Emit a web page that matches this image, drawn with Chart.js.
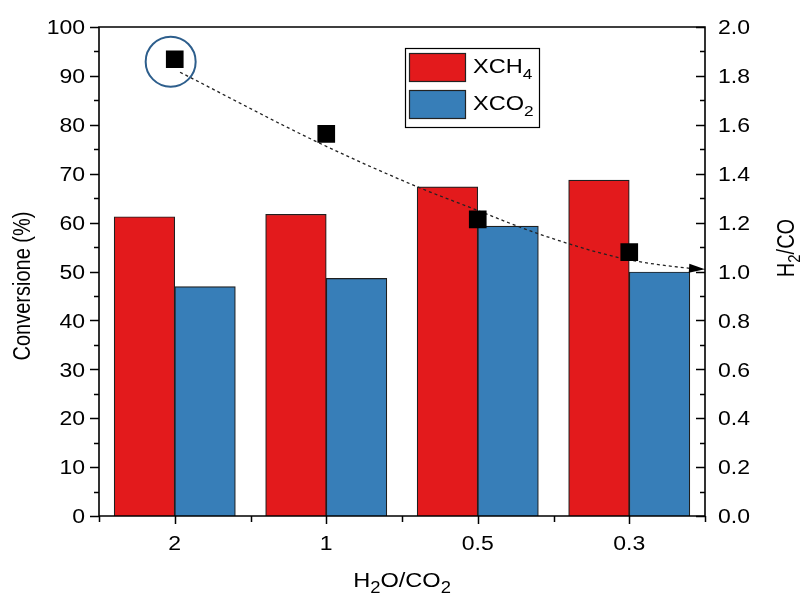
<!DOCTYPE html>
<html><head><meta charset="utf-8">
<script src="https://cdn.jsdelivr.net/npm/chart.js@4/dist/chart.umd.min.js"></script>
<style>html,body{margin:0;padding:0;background:#fff;} #wrap{width:803px;height:596px;position:relative;}</style>
</head><body><div id="wrap"><canvas id="c" width="803" height="596"></canvas></div>
<script>
// ---- data ----
const categories = ['2', '1', '0.5', '0.3'];
const xch4 = [61.2, 61.7, 67.3, 68.7];
const xco2 = [46.9, 48.6, 59.3, 49.9];
const h2co = [1.868, 1.563, 1.213, 1.079];
// dashed trend curve (x in category units from the left axis, y on H2/CO axis)
const fitPos = [0.535, 1.439, 2.099, 2.449, 2.911, 3.452, 3.901, 4.0];
const fitVal = [1.815, 1.530, 1.347, 1.262, 1.152, 1.054, 1.013, 1.009];
// highlight circle around the first point
const circlePos = [0.473];
const circleVal = [1.858];
const leftRange = [0, 100];
const leftStep = 10;
const rightRange = [0, 2];
const rightStep = 0.2;
const seriesNames = ['XCH_4', 'XCO_2'];
const axisTitles = { x: 'H_2O/CO_2', left: 'Conversione (%)', right: 'H_2/CO' };

// ---- helpers ----
const FONT = '"Liberation Sans", Arial, sans-serif';
const SX = 1.15;
function rich(ctx, text, x, y, size, align, rot, subScale) {
  const segs = [];
  const re = /_(\w)/g; let last = 0, m;
  while ((m = re.exec(text))) {
    if (m.index > last) segs.push({ t: text.slice(last, m.index), sub: false });
    segs.push({ t: m[1], sub: true });
    last = re.lastIndex;
  }
  if (last < text.length) segs.push({ t: text.slice(last), sub: false });
  const fN = size + 'px ' + FONT;
  const fS = Math.round(size * (subScale || 0.72)) + 'px ' + FONT;
  let w = 0;
  segs.forEach(s => { ctx.font = s.sub ? fS : fN; s.w = ctx.measureText(s.t).width; w += s.w; });
  ctx.save();
  ctx.translate(x, y);
  ctx.scale(SX, 1);
  if (rot) ctx.rotate(rot);
  let cx = align === 'center' ? -w / 2 : align === 'right' ? -w : 0;
  const base = size * 0.36;
  ctx.textAlign = 'left'; ctx.textBaseline = 'alphabetic'; ctx.fillStyle = '#000';
  segs.forEach(s => {
    ctx.font = s.sub ? fS : fN;
    ctx.fillText(s.t, cx, base + (s.sub ? size * 0.27 : 0));
    cx += s.w;
  });
  ctx.restore();
}
function fmt(v, d) { return v.toFixed(d); }

const framePlugin = {
  id: 'frame',
  afterDatasetsDraw(chart) {
    const ctx = chart.ctx, a = chart.chartArea;
    const xs = chart.scales.x, yl = chart.scales.y, yr = chart.scales.y1;
    ctx.save();
    // arrow head at end of fit curve
    const fm = chart.getDatasetMeta(0).data;
    const p = fm[fm.length - 1], q = fm[fm.length - 2];
    const ang = Math.atan2(p.y - q.y, p.x - q.x);
    ctx.fillStyle = '#000';
    ctx.beginPath();
    ctx.moveTo(p.x, p.y);
    ctx.lineTo(p.x - 16 * Math.cos(ang) + 4.5 * Math.sin(ang), p.y - 16 * Math.sin(ang) - 4.5 * Math.cos(ang));
    ctx.lineTo(p.x - 16 * Math.cos(ang) - 4.5 * Math.sin(ang), p.y - 16 * Math.sin(ang) + 4.5 * Math.cos(ang));
    ctx.closePath(); ctx.fill();

    ctx.strokeStyle = '#000'; ctx.lineWidth = 1.6; ctx.lineCap = 'square';
    ctx.beginPath();
    ctx.moveTo(a.left, a.bottom); ctx.lineTo(a.left, a.top); ctx.lineTo(a.right, a.top);
    ctx.lineTo(a.right, a.bottom); ctx.closePath(); ctx.stroke();
    ctx.lineCap = 'butt'; ctx.lineWidth = 1.5;
    ctx.beginPath();
    // left ticks (outward)
    const nL = Math.round((leftRange[1] - leftRange[0]) / (leftStep / 2));
    for (let i = 0; i <= nL; i++) {
      const v = leftRange[0] + i * leftStep / 2;
      const py = Math.round(yl.getPixelForValue(v)) + 0.5;
      const len = i % 2 === 0 ? 9 : 5;
      ctx.moveTo(a.left, py); ctx.lineTo(a.left - len, py);
    }
    // right ticks (inward)
    const nR = Math.round((rightRange[1] - rightRange[0]) / (rightStep / 2));
    for (let i = 0; i <= nR; i++) {
      const v = rightRange[0] + i * rightStep / 2;
      const py = Math.round(yr.getPixelForValue(v)) + 0.5;
      const len = i % 2 === 0 ? 9 : 5;
      ctx.moveTo(a.right, py); ctx.lineTo(a.right - len, py);
    }
    // bottom ticks
    const half = (xs.getPixelForValue(1) - xs.getPixelForValue(0)) / 2;
    for (let i = 0; i < categories.length; i++) {
      const cx = Math.round(xs.getPixelForValue(i)) + 0.5;
      ctx.moveTo(cx, a.bottom); ctx.lineTo(cx, a.bottom + 8);
      const bx = Math.round(xs.getPixelForValue(i) - half) + 0.5;
      ctx.moveTo(bx, a.bottom); ctx.lineTo(bx, a.bottom + 6);
    }
    const ex = Math.round(xs.getPixelForValue(categories.length - 1) + half) + 0.5;
    ctx.moveTo(ex, a.bottom); ctx.lineTo(ex, a.bottom + 6);
    ctx.stroke();
    ctx.restore();
  },
  afterDraw(chart) {
    const ctx = chart.ctx, a = chart.chartArea;
    const xs = chart.scales.x, yl = chart.scales.y, yr = chart.scales.y1;
    // tick labels
    yl.ticks.forEach(t => rich(ctx, fmt(t.value, 0), a.left - 14, yl.getPixelForValue(t.value), 20, 'right'));
    yr.ticks.forEach(t => rich(ctx, fmt(t.value, 1), a.right + 13, yr.getPixelForValue(t.value), 20, 'left'));
    categories.forEach((c, i) => rich(ctx, c, xs.getPixelForValue(i), a.bottom + 27, 20, 'center'));
    // axis titles
    rich(ctx, axisTitles.x, (a.left + a.right) / 2, a.bottom + 64, 20.5, 'center', 0, 0.78);
    rich(ctx, axisTitles.left, 22, 286, 20, 'center', -Math.PI / 2);
    rich(ctx, axisTitles.right, 786, 248, 20, 'center', -Math.PI / 2, 0.75);
    // legend
    ctx.save();
    ctx.strokeStyle = '#000'; ctx.lineWidth = 1.2;
    ctx.strokeRect(405.5, 48.5, 134, 79);
    const bars = [chart.data.datasets[3], chart.data.datasets[4]];
    const rows = [53, 90];
    bars.forEach((d, i) => {
      ctx.fillStyle = d.backgroundColor;
      ctx.fillRect(409.5, rows[i] + 0.5, 56, 28);
      ctx.strokeStyle = '#222'; ctx.lineWidth = 1.2;
      ctx.strokeRect(409.5, rows[i] + 0.5, 56, 28);
      rich(ctx, seriesNames[i], 473, rows[i] + 13, 20.5, 'left');
    });
    ctx.restore();
  }
};

new Chart(document.getElementById('c'), {
  type: 'bar',
  data: {
    labels: categories,
    datasets: [
      { type: 'line', label: 'fit', data: fitPos.map((u, i) => ({ x: u, y: fitVal[i] })),
        xAxisID: 'xu', yAxisID: 'y1', borderColor: '#222', borderWidth: 1.3, borderDash: [3, 3],
        pointRadius: 0, fill: false, cubicInterpolationMode: 'monotone', order: 2 },
      { type: 'line', label: 'H2/CO', data: h2co, xAxisID: 'x', yAxisID: 'y1', showLine: false,
        pointStyle: 'rect', pointRadius: 12.5, pointBackgroundColor: '#000', pointBorderWidth: 0,
        backgroundColor: '#000', borderColor: '#000', order: 0 },
      { type: 'scatter', label: 'highlight', data: circlePos.map((u, i) => ({ x: u, y: circleVal[i] })),
        xAxisID: 'xu', yAxisID: 'y1', pointStyle: 'circle', pointRadius: 25,
        pointBackgroundColor: 'rgba(0,0,0,0)', pointBorderColor: '#2D5E8C', pointBorderWidth: 2, order: 1 },
      { label: 'XCH4', data: xch4, xAxisID: 'x', yAxisID: 'y', backgroundColor: '#E31A1C', borderColor: '#1f1f1f',
        borderWidth: 1.2, barThickness: 60.6, order: 5 },
      { label: 'XCO2', data: xco2, xAxisID: 'x', yAxisID: 'y', backgroundColor: '#377EB8', borderColor: '#1f1f1f',
        borderWidth: 1.2, barThickness: 60.6, order: 5 }
    ]
  },
  options: {
    responsive: false, animation: false, devicePixelRatio: 1,
    layout: { padding: { top: 24, left: 0, right: 0, bottom: 0 } },
    plugins: { legend: { display: false }, tooltip: { enabled: false } },
    events: [],
    scales: {
      x: { type: 'category', offset: true, grid: { display: false }, border: { display: false },
           ticks: { display: false }, afterFit(s) { s.height = 80; } },
      xu: { type: 'linear', position: 'top', min: 0, max: 4, offset: false, grid: { display: false }, border: { display: false },
            ticks: { display: false }, afterFit(s) { s.height = 0; } },
      y: { position: 'left', min: leftRange[0], max: leftRange[1], ticks: { stepSize: leftStep, display: false },
           grid: { display: false }, border: { display: false }, afterFit(s) { s.width = 99; } },
      y1: { position: 'right', min: rightRange[0], max: rightRange[1], ticks: { stepSize: rightStep, display: false },
            grid: { display: false }, border: { display: false }, afterFit(s) { s.width = 98; } }
    }
  },
  plugins: [framePlugin]
});
</script></body></html>
